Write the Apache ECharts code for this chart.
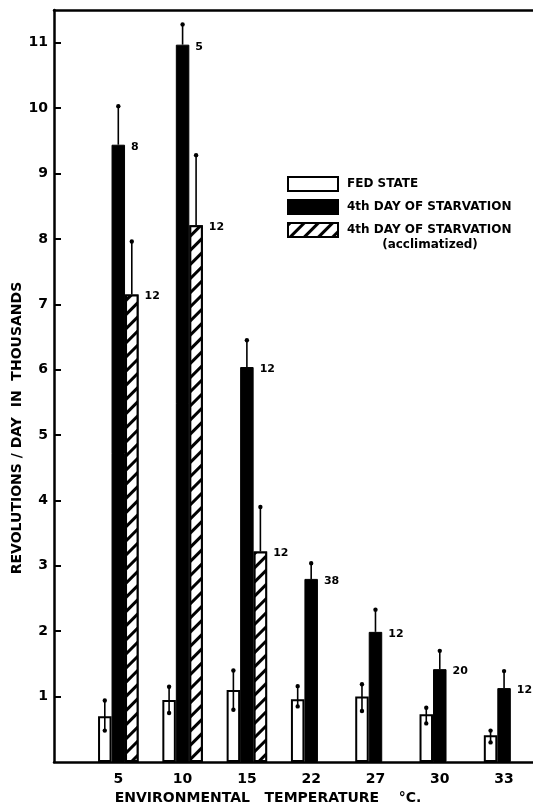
<!DOCTYPE html>
<html><head><meta charset="utf-8">
<script src="https://cdn.jsdelivr.net/npm/echarts/dist/echarts.min.js"></script>
<style>html,body{margin:0;padding:0;background:#fff}#c{width:533px;height:809px}</style>
</head><body><div id="c"></div>
<script>
const categories = ['5', '10', '15', '22', '27', '30', '33'];
const yTickValues = [1, 2, 3, 4, 5, 6, 7, 8, 9, 10, 11];
const fedState = [0.70, 0.95, 1.10, 0.96, 1.00, 0.73, 0.41];
const fedLow = [0.48, 0.75, 0.80, 0.85, 0.78, 0.59, 0.30];
const fedHigh = [0.94, 1.15, 1.40, 1.16, 1.19, 0.83, 0.48];
const starved = [9.44, 10.97, 6.04, 2.80, 1.99, 1.42, 1.13];
const starvedHigh = [10.03, 11.28, 6.45, 3.04, 2.33, 1.70, 1.39];
const starvedN = ['8', '5', '12', '38', '12', '20', '12'];
const accl = [7.15, 8.21, 3.22, null, null, null, null];
const acclHigh = [7.96, 9.28, 3.90, null, null, null, null];
const acclN = ['12', '12', '12', '', '', '', ''];

const BW = 13.5;
const FONT = 'DejaVu Sans';
const pos = categories.map((c, i) => i + 1);

function barData(vals) { return vals.map((v, i) => [pos[i], v]); }

function errSeries(name, lows, highs, offsetIdx, twoSided) {
  return {
    type: 'custom', name: name + '_err', z: 5, silent: true,
    data: highs.map((h, i) => h == null ? null : [pos[i], lows[i], h]).filter(d => d),
    encode: { x: 0, y: [1, 2] },
    renderItem: function (params, api) {
      const x = api.value(0);
      const a = api.coord([x, api.value(1)]);
      const b = api.coord([x, api.value(2)]);
      const dx = offsetIdx * BW;
      const ch = [
        { type: 'line', shape: { x1: a[0] + dx, y1: a[1], x2: b[0] + dx, y2: b[1] }, style: { stroke: '#000', lineWidth: 1.6 } },
        { type: 'circle', shape: { cx: b[0] + dx, cy: b[1], r: 2.2 }, style: { fill: '#000' } }
      ];
      if (twoSided) ch.push({ type: 'circle', shape: { cx: a[0] + dx, cy: a[1], r: 2.2 }, style: { fill: '#000' } });
      return { type: 'group', children: ch };
    }
  };
}

const chart = echarts.init(document.getElementById('c'), null, { renderer: 'canvas' });
chart.setOption({
  animation: false,
  backgroundColor: '#fff',
  grid: { left: 54, right: 0, top: 10, bottom: 47, containLabel: false, outerBoundsMode: 'none' },
  xAxis: [{
    type: 'value', min: 0, max: 7.45, interval: 1,
    axisLine: { show: true, lineStyle: { color: '#000', width: 2.5 } },
    axisTick: { show: false },
    splitLine: { show: false },
    axisLabel: {
      customValues: pos,
      formatter: v => categories[v - 1] || '',
      color: '#000', fontFamily: FONT, fontWeight: 'bold', fontSize: 14, margin: 10
    }
  }, {
    type: 'value', position: 'top', min: 0, max: 7.45, interval: 1,
    axisLine: { show: true, onZero: false, lineStyle: { color: '#000', width: 2.5 } },
    axisTick: { show: false }, axisLabel: { show: false }, splitLine: { show: false }
  }],
  yAxis: {
    type: 'value', min: 0, max: 11.5, interval: 1,
    axisLine: { show: true, lineStyle: { color: '#000', width: 2.5 } },
    axisTick: { show: true, inside: true, length: 7, customValues: yTickValues, lineStyle: { color: '#000', width: 2 } },
    axisLabel: {
      customValues: yTickValues,
      color: '#000', fontFamily: FONT, fontWeight: 'bold', fontSize: 14, margin: 6
    },
    splitLine: { show: false }
  },
  legend: {
    orient: 'vertical', left: 282, top: 171, itemWidth: 50, itemHeight: 14, itemGap: 7,
    icon: 'rect',
    data: ['FED STATE', '4th DAY OF STARVATION', '4th DAY OF STARVATION (acclimatized)'],
    formatter: n => n.replace(' (acclimatized)', ''),
    textStyle: { color: '#000', fontFamily: FONT, fontWeight: 'bold', fontSize: 12, padding: [0, 0, 0, 4] }
  },
  graphic: [
    { type: 'text',
      style: { text: 'REVOLUTIONS / DAY  IN  THOUSANDS', fill: '#000', font: 'bold 14px ' + FONT, textAlign: 'center', textVerticalAlign: 'middle' },
      x: 17, y: 428, rotation: Math.PI / 2 },
    { type: 'text',
      style: { text: '(acclimatized)', fill: '#000', font: 'bold 12px ' + FONT, textAlign: 'center', textVerticalAlign: 'middle' },
      x: 430, y: 245 },
    { type: 'text',
      style: { text: 'ENVIRONMENTAL   TEMPERATURE    °C.', fill: '#000', font: 'bold 14px ' + FONT, textAlign: 'center', textVerticalAlign: 'middle' },
      x: 268, y: 798 }
  ],
  series: [
    {
      name: 'FED STATE', type: 'bar', barWidth: BW, barGap: '0%', z: 2,
      data: barData(fedState),
      itemStyle: { color: '#fff', borderColor: '#000', borderWidth: 2 }
    },
    {
      name: '4th DAY OF STARVATION', type: 'bar', barWidth: BW, barGap: '0%', z: 2,
      data: barData(starved),
      itemStyle: { color: '#000', borderColor: '#000', borderWidth: 1 },
      label: {
        show: true, position: ['100%', 0], offset: [6, 2], align: 'left', verticalAlign: 'middle',
        formatter: p => starvedN[p.dataIndex], color: '#000', fontFamily: FONT, fontWeight: 'bold', fontSize: 11
      }
    },
    {
      name: '4th DAY OF STARVATION (acclimatized)', type: 'bar', barWidth: BW, barGap: '0%', z: 2,
      data: barData(accl),
      itemStyle: {
        color: '#fff', borderColor: '#000', borderWidth: 2,
        decal: { symbol: 'rect', symbolSize: 1, dashArrayX: [1, 0], dashArrayY: [3, 7], rotation: -Math.PI / 4, color: '#000', backgroundColor: '#fff' }
      },
      label: {
        show: true, position: ['100%', 0], offset: [6, 2], align: 'left', verticalAlign: 'middle',
        formatter: p => acclN[p.dataIndex], color: '#000', fontFamily: FONT, fontWeight: 'bold', fontSize: 11
      }
    },
    errSeries('fed', fedLow, fedHigh, -1, true),
    errSeries('starved', starved, starvedHigh, 0, false),
    errSeries('accl', accl, acclHigh, 1, false)
  ]
});
</script></body></html>
